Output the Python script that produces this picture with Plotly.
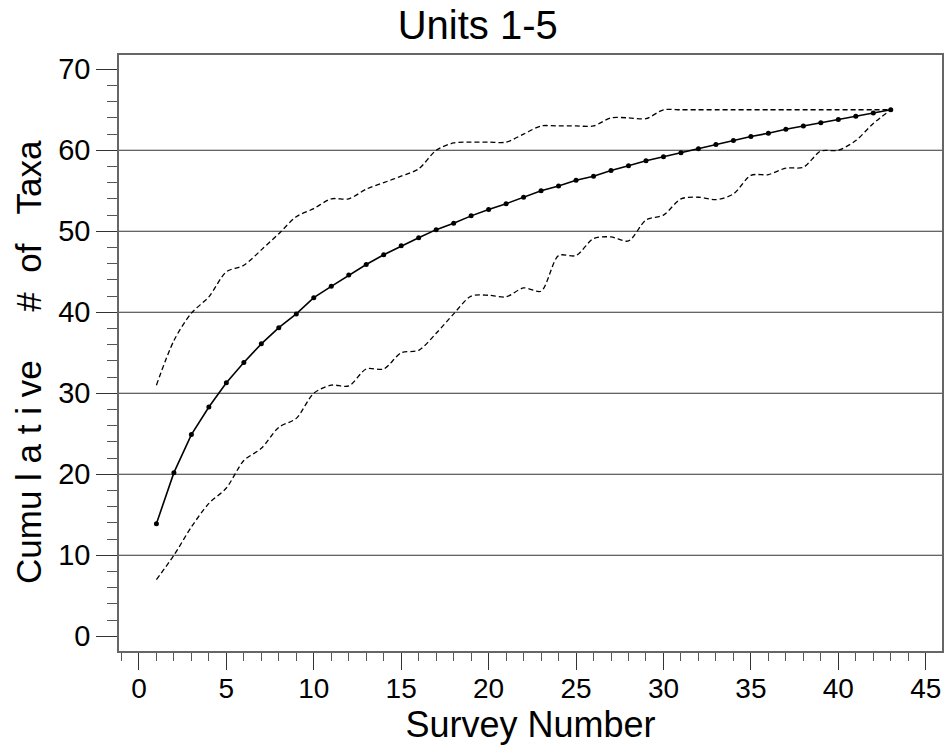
import plotly.graph_objects as go

survey = list(range(1, 44))
mean_taxa = [13.9, 20.2, 24.9, 28.3, 31.3, 33.8, 36.1, 38.1, 39.8, 41.8,
             43.2, 44.6, 45.9, 47.1, 48.2, 49.2, 50.2, 51.0, 51.9, 52.7,
             53.4, 54.2, 55.0, 55.6, 56.3, 56.8, 57.5, 58.1, 58.7, 59.2,
             59.7, 60.2, 60.7, 61.2, 61.7, 62.1, 62.6, 63.0, 63.4, 63.8,
             64.2, 64.6, 65.0]
upper_taxa = [31.0, 36.5, 39.9, 41.9, 45.0, 45.8, 47.7, 49.7, 51.8, 52.8,
              54.0, 54.0, 55.2, 56.0, 56.8, 57.7, 60.0, 60.9, 61.0, 61.0,
              61.0, 62.0, 63.0, 63.0, 63.0, 63.0, 64.0, 64.0, 63.9, 65.0,
              65.0, 65.0, 65.0, 65.0, 65.0, 65.0, 65.0, 65.0, 65.0, 65.0,
              65.0, 65.0, 65.0]
lower_taxa = [7.0, 10.0, 13.5, 16.4, 18.3, 21.7, 23.2, 25.8, 26.9, 30.0,
              31.0, 30.9, 33.0, 33.0, 35.0, 35.3, 37.4, 39.8, 42.0, 42.1,
              41.9, 43.0, 42.6, 47.0, 47.0, 49.1, 49.3, 48.8, 51.4, 52.0,
              54.0, 54.2, 53.9, 54.6, 56.9, 57.0, 57.8, 57.9, 59.9, 60.0,
              61.2, 63.3, 65.0]
grid_values = [10, 20, 30, 40, 50, 60]
x_ticks = [0, 5, 10, 15, 20, 25, 30, 35, 40, 45]
y_ticks = [0, 10, 20, 30, 40, 50, 60, 70]

FONT = "Liberation Sans, Arial, sans-serif"
NB = "\u00a0"
ytitle = "Cumu l a t i ve" + NB * 5 + "#" + NB * 2 + "of" + NB * 3 + "Taxa"

fig = go.Figure()
dash_line = dict(color="black", width=1.3, dash="5px,3px", shape="spline", smoothing=0.8)
fig.add_trace(go.Scatter(x=survey, y=upper_taxa, mode="lines", line=dash_line,
                         showlegend=False, hoverinfo="skip"))
fig.add_trace(go.Scatter(x=survey, y=lower_taxa, mode="lines", line=dash_line,
                         showlegend=False, hoverinfo="skip"))
fig.add_trace(go.Scatter(x=survey, y=mean_taxa, mode="lines+markers",
                         line=dict(color="black", width=1.6),
                         marker=dict(color="black", size=5),
                         showlegend=False))

for v in grid_values:
    fig.add_shape(type="line", xref="paper", x0=0, x1=1, yref="y", y0=v, y1=v,
                  line=dict(color="#333333", width=1), layer="below")

fig.add_annotation(text=ytitle, textangle=-90, xref="paper", yref="paper",
                   x=-0.1107, y=0.4847, xanchor="center", yanchor="middle",
                   showarrow=False, font=dict(size=35, family=FONT, color="black"))

fig.update_layout(
    width=946, height=747,
    margin=dict(l=119, r=2, t=55, b=96),
    paper_bgcolor="white", plot_bgcolor="white",
    font=dict(family=FONT, color="black"),
    title=dict(text="Units 1-5", x=0.505, xanchor="center", y=0.966, yanchor="middle",
               font=dict(size=40, family=FONT, color="black")),
    xaxis=dict(range=[-1.14, 45.93], tickmode="array", tickvals=x_ticks,
               ticks="outside", ticklen=17, tickwidth=1.2, tickcolor="#333",
               minor=dict(dtick=1, tick0=0, ticks="outside", ticklen=8, tickwidth=1, tickcolor="#555"),
               showline=True, linecolor="#666", linewidth=1.5, mirror=True,
               showgrid=False, zeroline=False, ticklabelstandoff=-5,
               tickfont=dict(size=28, family=FONT, color="black"),
               title=dict(text="Survey Number", font=dict(size=36, family=FONT, color="black"), standoff=4)),
    yaxis=dict(range=[-1.82, 71.76], tickmode="array", tickvals=y_ticks,
               ticks="outside", ticklen=21, tickwidth=1.2, tickcolor="#333",
               minor=dict(dtick=2, tick0=0, ticks="outside", ticklen=10, tickwidth=1, tickcolor="#555"),
               showline=True, linecolor="#666", linewidth=1.5, mirror=True,
               showgrid=False, zeroline=False,
               tickfont=dict(size=29, family=FONT, color="black")),
)

fig.write_html("out.html", config={"displayModeBar": False},
               post_script="document.body.style.margin='0';")
